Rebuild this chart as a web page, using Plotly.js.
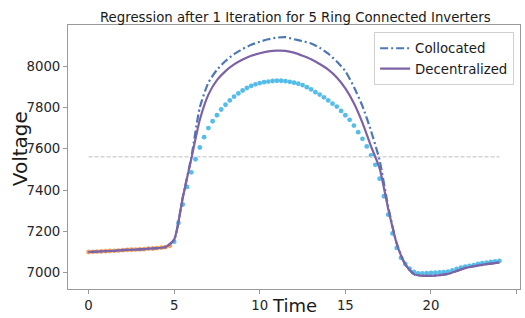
<!DOCTYPE html>
<html>
<head>
<meta charset="utf-8">
<script src="https://cdn.plot.ly/plotly-3.0.1.min.js"></script>
<style>html,body{margin:0;padding:0;background:#fff;}#chart{width:525px;height:318px;}</style>
</head>
<body>
<div id="chart"></div>
<script>
// Time grid for regression curves (hours)
const tCurve = [0,0.5,1,1.5,2,2.5,3,3.5,4,4.5,5,5.5,6,6.5,7,7.5,8,8.5,9,9.5,10,10.5,11,11.5,12,12.5,13,13.5,14,14.5,15,15.5,16,16.5,17,17.5,18,18.5,19,19.5,20,20.5,21,21.5,22,22.5,23,23.5,24];
const collocated = [7100,7102,7104,7106,7109,7111,7113,7116,7119,7124,7160,7364,7558,7800,7920,7982,8025,8058,8083,8103,8118,8130,8138,8140,8130,8121,8109,8089,8060,8022,7975,7899,7806,7686,7544,7320,7142,7040,6993,6985,6985,6988,6994,7008,7022,7031,7038,7044,7049];
const decentralized = [7100,7102,7104,7106,7109,7111,7113,7116,7119,7124,7160,7362,7550,7740,7862,7932,7976,8008,8032,8050,8062,8071,8075,8074,8065,8050,8033,8010,7983,7945,7892,7820,7725,7611,7505,7310,7140,7040,6993,6985,6985,6988,6994,7008,7022,7031,7038,7044,7049];

// Observed data: first hours (orange) and remaining hours (light blue)
const tTrain = [0,0.25,0.5,0.75,1,1.25,1.5,1.75,2,2.25,2.5,2.75,3,3.25,3.5,3.75,4,4.25,4.5,4.75];
const vTrain = [7100,7101,7102,7103,7104,7105,7106,7107,7109,7110,7111,7112,7113,7114,7116,7117,7119,7121,7124,7130];
const tTest = [5,5.25,5.5,5.75,6,6.25,6.5,6.75,7,7.25,7.5,7.75,8,8.25,8.5,8.75,9,9.25,9.5,9.75,10,10.25,10.5,10.75,11,11.25,11.5,11.75,12,12.25,12.5,12.75,13,13.25,13.5,13.75,14,14.25,14.5,14.75,15,15.25,15.5,15.75,16,16.25,16.5,16.75,17,17.25,17.5,17.75,18,18.25,18.5,18.75,19,19.25,19.5,19.75,20,20.25,20.5,20.75,21,21.25,21.5,21.75,22,22.25,22.5,22.75,23,23.25,23.5,23.75,24];
const vTest = [7150,7241,7330,7415,7486,7549,7606,7656,7700,7733,7762,7790,7813,7834,7852,7868,7882,7894,7904,7912,7918,7922,7925,7928,7929,7929,7927,7924,7920,7915,7908,7898,7887,7874,7862,7849,7834,7818,7804,7783,7762,7740,7712,7680,7648,7611,7568,7522,7455,7370,7281,7190,7120,7072,7042,7020,7004,6997,6997,6998,6999,7000,7001,7003,7005,7011,7018,7024,7029,7033,7037,7042,7046,7049,7052,7055,7057];

// Reference level line
const tLevel = [0, 24];
const vLevel = [7561, 7561];

const xTicks = [0,5,10,15,20,25];
const yTicks = [7000,7200,7400,7600,7800,8000];

const font = "DejaVu Sans, Liberation Sans, sans-serif";

const traces = [
  {x: tTrain, y: vTrain, mode: 'markers', type: 'scatter', showlegend: false,
   marker: {color: '#f4a25c', size: 4.8}, hoverinfo: 'skip'},
  {x: tTest, y: vTest, mode: 'markers', type: 'scatter', showlegend: false,
   marker: {color: '#55bde9', size: 4.8}, hoverinfo: 'skip'},
  {x: tLevel, y: vLevel, mode: 'lines', type: 'scatter', showlegend: false,
   line: {color: '#d4d4d4', width: 1.5, dash: '4px,2px'}, hoverinfo: 'skip'},
  {x: tCurve, y: collocated, mode: 'lines', type: 'scatter', name: 'Collocated',
   line: {color: '#4c78b5', width: 2.2, dash: '8px,3px,2px,3px', shape: 'spline', smoothing: 0.6}},
  {x: tCurve, y: decentralized, mode: 'lines', type: 'scatter', name: 'Decentralized',
   line: {color: '#7d62a6', width: 2.2, shape: 'spline', smoothing: 0.6}}
];

const axisCommon = {
  showgrid: false, zeroline: false, showline: true, linecolor: '#9a9a9a', linewidth: 1,
  mirror: true, ticks: 'outside', ticklen: 4, tickcolor: '#9a9a9a',
  tickfont: {family: font, size: 13.3, color: '#262626'}
};

const layout = {
  width: 525, height: 318,
  margin: {l: 68, r: 5, t: 25, b: 29},
  paper_bgcolor: '#ffffff', plot_bgcolor: '#ffffff',
  font: {family: font, color: '#262626'},
  title: {text: 'Regression after 1 Iteration for 5 Ring Connected Inverters',
          font: {family: font, size: 13.3, color: '#1a1a1a'},
          x: 0.5625, xanchor: 'center', y: 0.945, yanchor: 'middle'},
  xaxis: Object.assign({}, axisCommon, {
    range: [-1.2, 25.2], tickvals: xTicks, ticktext: xTicks.map(String)
  }),
  yaxis: Object.assign({}, axisCommon, {
    range: [6921, 8199], tickvals: yTicks, ticktext: yTicks.map(String)
  }),
  annotations: [{
    text: 'Voltage', textangle: -90, showarrow: false,
    xref: 'paper', yref: 'paper', x: -0.106, y: 0.53, xanchor: 'center', yanchor: 'middle',
    font: {family: font, size: 20, color: '#1a1a1a'}
  }, {
    text: 'Time', showarrow: false,
    xref: 'paper', yref: 'paper', x: 0.5, y: -0.109, xanchor: 'center', yanchor: 'bottom',
    font: {family: font, size: 18, color: '#1a1a1a'}
  }],
  legend: {x: 0.987, xanchor: 'right', y: 0.973, yanchor: 'top',
           bgcolor: 'rgba(255,255,255,0.9)', bordercolor: '#d0d0d0', borderwidth: 1,
           font: {family: font, size: 13.3, color: '#1a1a1a'}, tracegroupgap: 0},
  showlegend: true
};

Plotly.newPlot('chart', traces, layout, {displayModeBar: false, staticPlot: true});
</script>
</body>
</html>
